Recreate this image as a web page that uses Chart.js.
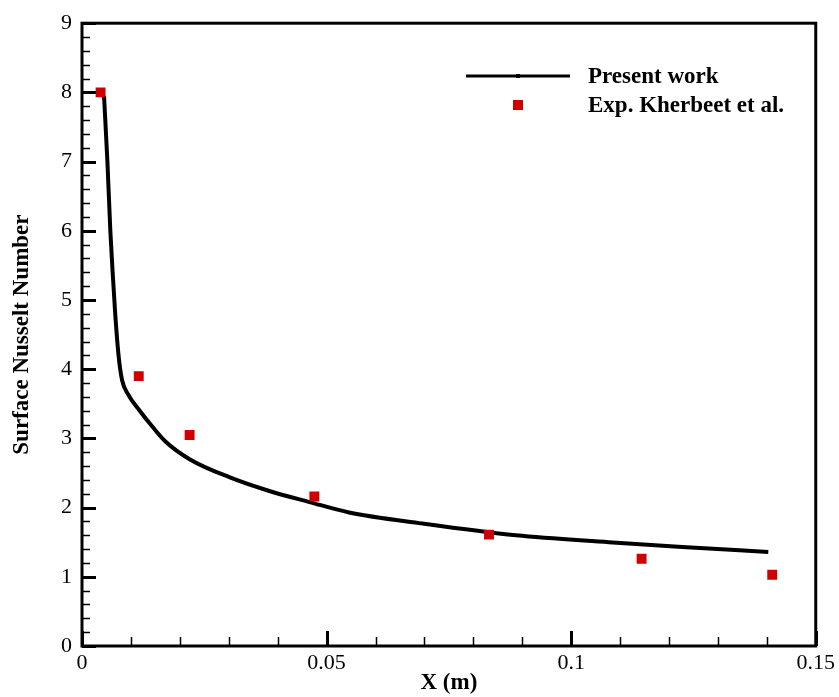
<!DOCTYPE html>
<html lang="en">
<head>
    <meta charset="UTF-8">
    <title>Surface Nusselt Number</title>
    <style>
        body {
            margin: 0;
            background-color: #FFFFFF;
        }
        canvas {
            display: block;
        }
    </style>
</head>
<body>
    <canvas id="nuChart" width="839" height="697"></canvas>

    <script src="https://cdn.jsdelivr.net/npm/chart.js"></script>
    <script>
        // Present work (simulation curve)
        const lineX = [0.0045, 0.0052, 0.0058, 0.0063, 0.0068, 0.0075, 0.0082, 0.0094, 0.0118, 0.0145, 0.0170, 0.0220, 0.0301, 0.0383, 0.0465, 0.0546, 0.0696, 0.0887, 0.1077, 0.1227, 0.1403];
        const lineY = [7.95, 6.99, 5.99, 5.36, 4.79, 4.18, 3.84, 3.64, 3.40, 3.16, 2.96, 2.70, 2.44, 2.24, 2.08, 1.93, 1.77, 1.60, 1.50, 1.43, 1.36];

        // Experimental points (Kherbeet et al.)
        const expX = [0.0038, 0.0116, 0.0220, 0.0475, 0.0832, 0.1144, 0.1411];
        const expY = [8.00, 3.90, 3.05, 2.16, 1.61, 1.26, 1.03];

        const xTickLabels = ['0', '0.05', '0.1', '0.15'];
        const seriesNames = ['Present work', 'Exp. Kherbeet et al.'];

        const serif = '"Liberation Serif", "Times New Roman", serif';

        // inward major/minor ticks plus the closed frame
        const framePlugin = {
            id: 'frame',
            afterDatasetsDraw(chart) {
                const ctx = chart.ctx;
                const a = chart.chartArea;
                const xs = chart.scales.x;
                const ys = chart.scales.y;
                ctx.save();
                ctx.strokeStyle = '#000000';

                for (let i = 0; i <= 45; i++) {
                    const py = Math.round(ys.getPixelForValue(i * 0.2)) + 0.5;
                    const major = i % 5 === 0;
                    ctx.lineWidth = major ? 3 : 1.5;
                    ctx.beginPath();
                    ctx.moveTo(a.left, py);
                    ctx.lineTo(a.left + (major ? 14 : 8), py);
                    ctx.stroke();
                }
                for (let i = 0; i <= 15; i++) {
                    const px = Math.round(xs.getPixelForValue(i * 0.01)) + 0.5;
                    const major = i % 5 === 0;
                    ctx.lineWidth = major ? 3 : 1.5;
                    ctx.beginPath();
                    ctx.moveTo(px, a.bottom);
                    ctx.lineTo(px, a.bottom - (major ? 15 : 9));
                    ctx.stroke();
                }

                ctx.lineWidth = 3;
                ctx.strokeRect(a.left, a.top, a.right - a.left, a.bottom - a.top);
                ctx.restore();
            }
        };

        // legend drawn inside the plot, top right
        const legendPlugin = {
            id: 'insideLegend',
            afterDraw(chart) {
                const ctx = chart.ctx;
                ctx.save();
                ctx.strokeStyle = '#000000';
                ctx.lineWidth = 3;
                ctx.beginPath();
                ctx.moveTo(466, 76);
                ctx.lineTo(570, 76);
                ctx.stroke();
                ctx.fillStyle = '#000000';
                ctx.fillRect(516, 74, 4, 4);

                ctx.fillStyle = '#D10000';
                ctx.fillRect(513, 100, 10, 10);

                ctx.fillStyle = '#000000';
                ctx.font = 'bold 23px ' + serif;
                ctx.textBaseline = 'middle';
                ctx.textAlign = 'left';
                ctx.fillText(seriesNames[0], 588, 77);
                ctx.fillText(seriesNames[1], 588, 106);
                ctx.restore();
            }
        };

        const ctx = document.getElementById('nuChart').getContext('2d');
        new Chart(ctx, {
            type: 'scatter',
            data: {
                datasets: [
                    {
                        label: seriesNames[1],
                        data: expX.map((x, i) => ({ x: x, y: expY[i] })),
                        pointStyle: 'rect',
                        pointRadius: 7,
                        pointBorderWidth: 0,
                        backgroundColor: '#D10000',
                        borderColor: '#D10000',
                        order: 1
                    },
                    {
                        label: seriesNames[0],
                        data: lineX.map((x, i) => ({ x: x, y: lineY[i] })),
                        showLine: true,
                        borderColor: '#000000',
                        borderWidth: 4,
                        pointRadius: 0,
                        cubicInterpolationMode: 'monotone',
                        order: 2
                    }
                ]
            },
            options: {
                responsive: false,
                animation: false,
                layout: {
                    padding: { top: 20, right: 21, left: 0, bottom: 0 }
                },
                plugins: {
                    legend: { display: false },
                    tooltip: { enabled: false }
                },
                scales: {
                    x: {
                        type: 'linear',
                        min: 0,
                        max: 0.15,
                        afterFit(scale) { scale.height = 51; },
                        grid: { display: false, drawTicks: false },
                        border: { display: false },
                        ticks: {
                            stepSize: 0.05,
                            padding: 4,
                            color: '#000000',
                            font: { family: serif, size: 22 },
                            maxRotation: 0,
                            callback: (v, i) => xTickLabels[i]
                        },
                        title: {
                            display: true,
                            text: 'X (m)',
                            color: '#000000',
                            font: { family: serif, size: 23, weight: 'bold' },
                            padding: { top: 0, bottom: 0 }
                        }
                    },
                    y: {
                        min: 0,
                        max: 9,
                        afterFit(scale) { scale.width = 82; },
                        grid: { display: false, drawTicks: false },
                        border: { display: false },
                        ticks: {
                            stepSize: 1,
                            padding: 10,
                            color: '#000000',
                            font: { family: serif, size: 22 }
                        },
                        title: {
                            display: true,
                            text: 'Surface Nusselt Number',
                            color: '#000000',
                            font: { family: serif, size: 23, weight: 'bold' },
                            padding: { top: 8, bottom: 0 }
                        }
                    }
                }
            },
            plugins: [framePlugin, legendPlugin]
        });
    </script>
</body>
</html>
